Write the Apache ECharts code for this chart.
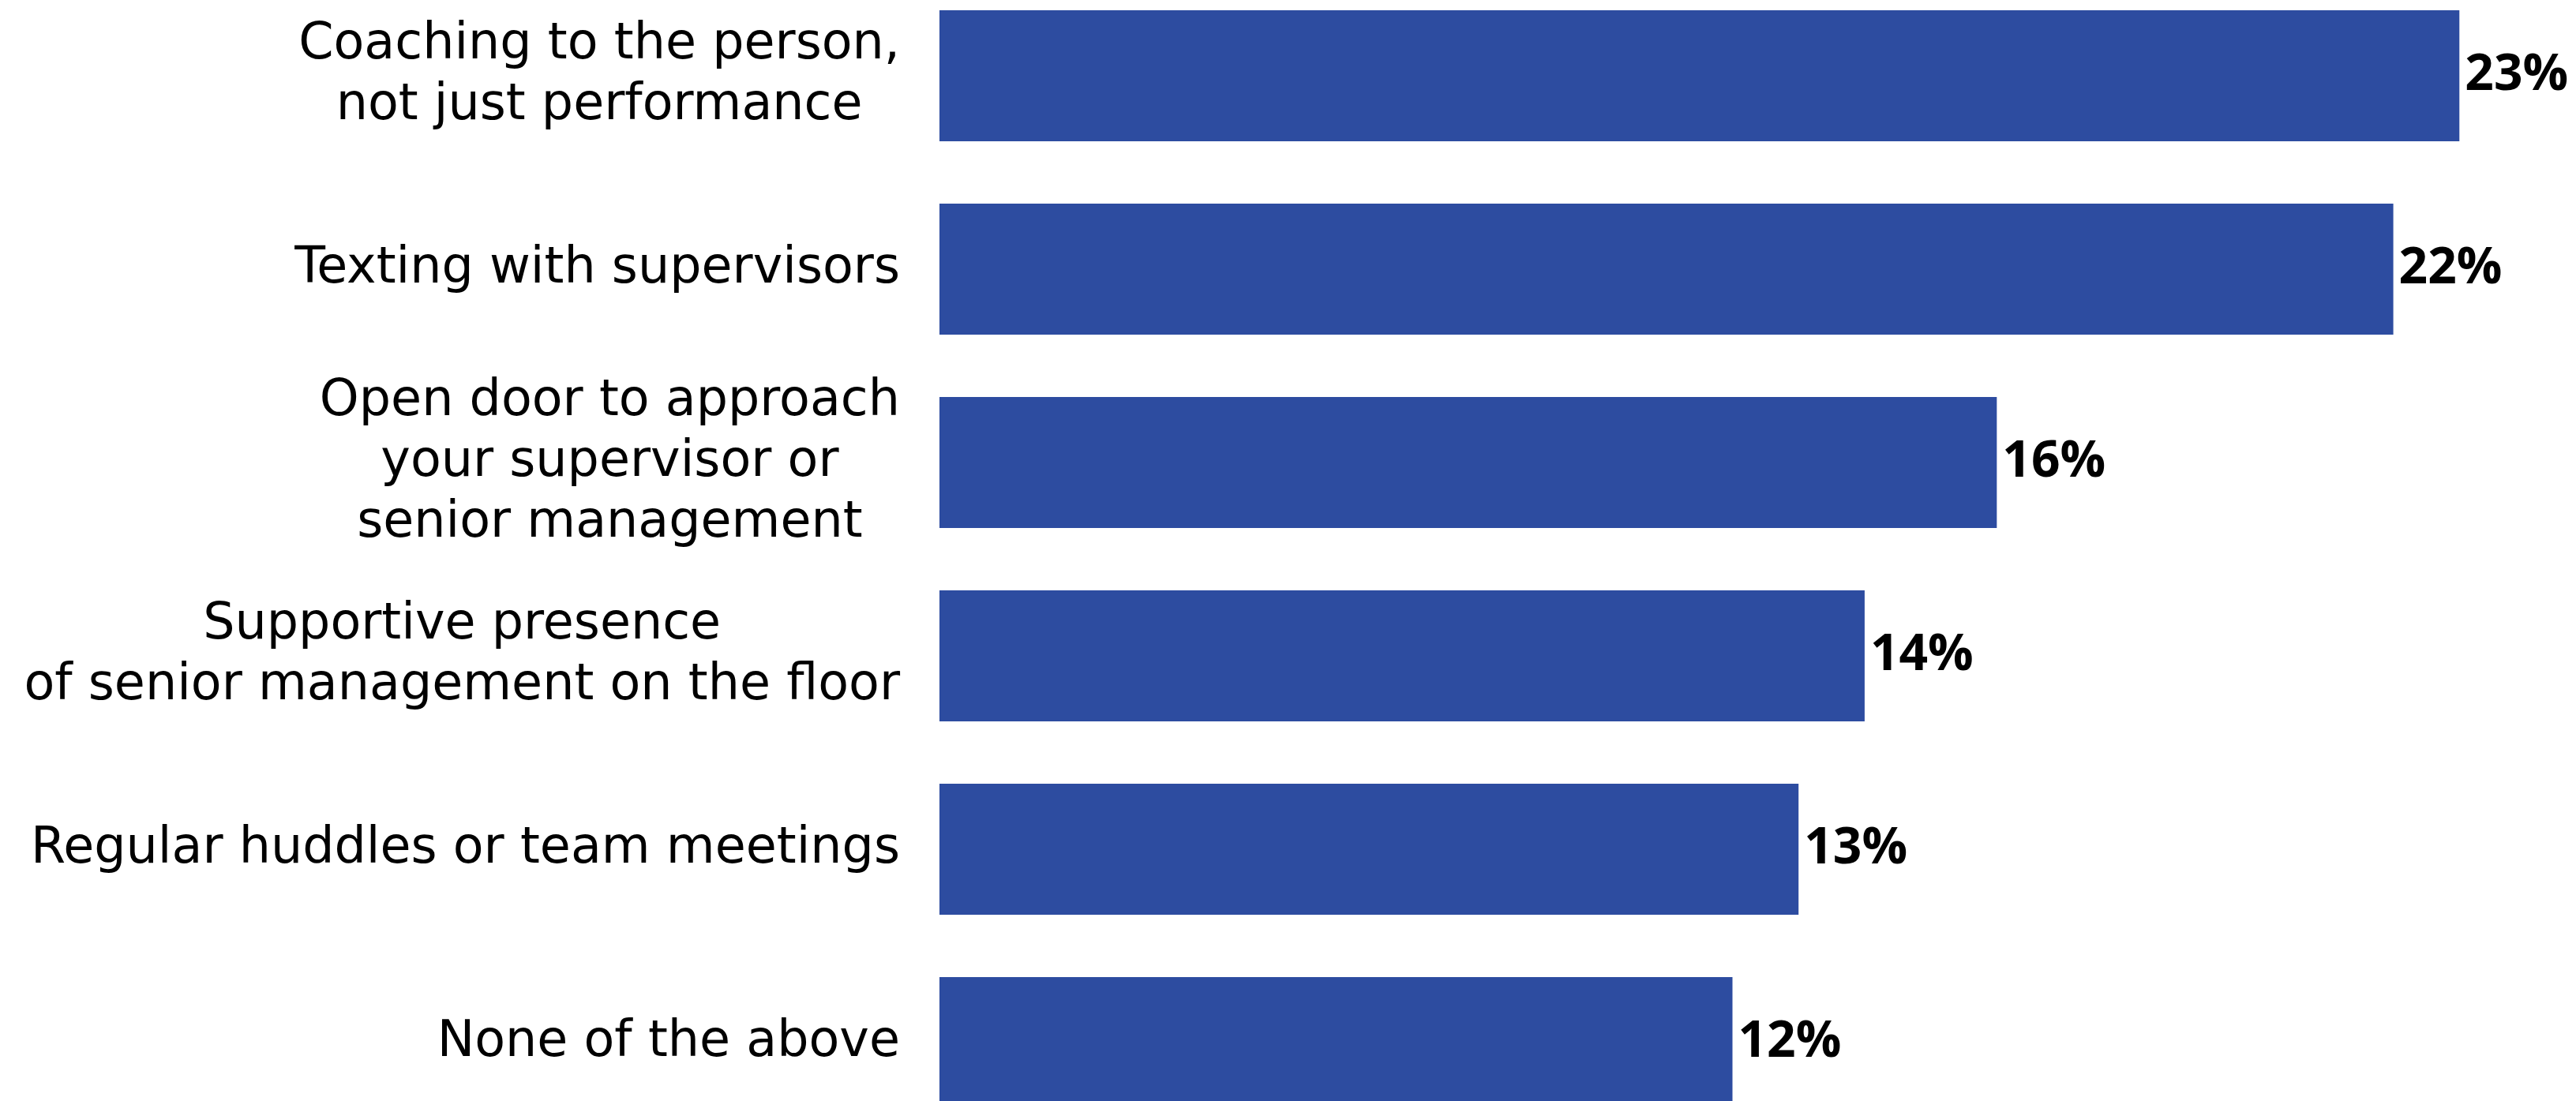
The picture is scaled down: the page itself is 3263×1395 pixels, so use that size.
<!DOCTYPE html>
<html>
<head>
<meta charset="utf-8">
<script src="https://cdn.jsdelivr.net/npm/echarts@6/dist/echarts.min.js"></script>
<style>
  html, body { margin: 0; padding: 0; background: #ffffff; }
  #chart { width: 3263px; height: 1395px; }
</style>
</head>
<body>
<div id="chart"></div>
<script>
// Survey answers, top to bottom
const categories = [
  'Coaching to the person,\nnot just performance',
  'Texting with supervisors',
  'Open door to approach\nyour supervisor or\nsenior management',
  'Supportive presence\nof senior management on the floor',
  'Regular huddles or team meetings',
  'None of the above'
];
// Share of respondents, percent
const shares = [23, 22, 16, 14, 13, 12];

const BAR_COLOR = '#2D4CA0';
const LABEL_FONT = '"DejaVu Sans", "Open Sans", sans-serif';
const VALUE_FONT = '"Open Sans", Lato, sans-serif';

const chart = echarts.init(document.getElementById('chart'), null, { renderer: 'canvas' });

chart.setOption({
  animation: false,
  backgroundColor: '#ffffff',
  // category centres sit on the grid edges (boundaryGap: false)
  grid: {
    left: 1190,
    right: 64,
    top: 96,
    bottom: 74,
    containLabel: false
  },
  xAxis: {
    type: 'value',
    min: 0,
    max: 24,
    show: false
  },
  yAxis: {
    type: 'category',
    inverse: true,
    boundaryGap: false,
    data: categories,
    axisLine: { show: false },
    axisTick: { show: false },
    splitLine: { show: false },
    axisLabel: {
      margin: 50,
      align: 'right',
      color: '#000000',
      fontFamily: LABEL_FONT,
      fontSize: 63.5,
      lineHeight: 77,
      // each line is centred inside the right-aligned label block
      formatter: function (v) {
        return v.split('\n').map(function (l) { return '{c|' + l + '}'; }).join('\n');
      },
      rich: {
        c: {
          align: 'center',
          color: '#000000',
          fontFamily: LABEL_FONT,
          fontSize: 63.5,
          lineHeight: 77
        }
      }
    }
  },
  series: [{
    type: 'bar',
    data: shares,
    barWidth: 166,
    clip: false,
    itemStyle: { color: BAR_COLOR },
    label: {
      show: true,
      position: 'right',
      distance: 7,
      color: '#000000',
      fontFamily: VALUE_FONT,
      fontSize: 64,
      fontWeight: 'bold',
      formatter: function (p) { return p.value + '%'; }
    }
  }]
});
</script>
</body>
</html>
